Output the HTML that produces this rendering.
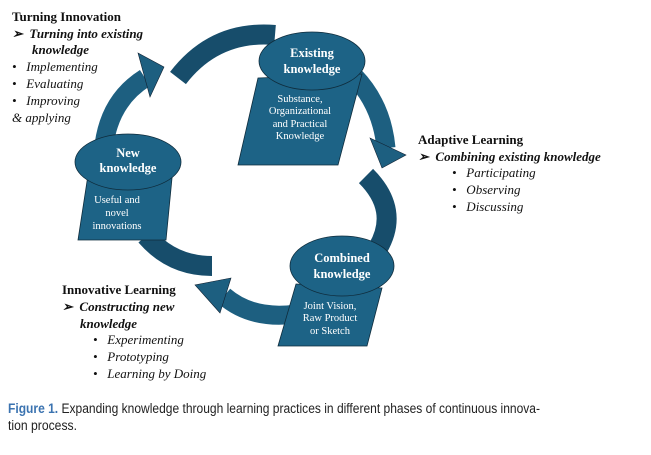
<!DOCTYPE html>
<html><head><meta charset="utf-8"><style>
html,body{margin:0;padding:0;background:#fff;}
svg{display:block;}
.s{font-family:"Liberation Serif",serif;font-size:13px;fill:#111;}
.w{font-family:"Liberation Serif",serif;fill:#fff;text-anchor:middle;}
.c{font-family:"Liberation Sans Narrow","Liberation Sans",sans-serif;font-size:13.5px;fill:#222;}
</style></head><body>
<svg width="651" height="455" viewBox="0 0 651 455">
<g fill="none" stroke-linecap="butt">
<path d="M104 145 Q110 100 145 78" stroke="#1d5f80" stroke-width="19"/>
<path d="M178 78 Q215 30 275 35" stroke="#174d6b" stroke-width="20"/>
<path d="M354 76 Q382 105 386 148" stroke="#1d5f80" stroke-width="19"/>
<path d="M366 176 Q400 210 378 248" stroke="#174d6b" stroke-width="20"/>
<path d="M296 314 Q252 320 224 296" stroke="#1d5f80" stroke-width="19"/>
<path d="M212 266 Q172 266 146 236" stroke="#174d6b" stroke-width="20"/>
</g>
<polygon points="138,53 164,67 150,97" fill="#1d5f80" stroke="#123" stroke-width="0.6"/>
<polygon points="370,138 406,155 382,168" fill="#1d5f80" stroke="#123" stroke-width="0.6"/>
<polygon points="231,278 195,285 220,313" fill="#1d5f80" stroke="#123" stroke-width="0.6"/>
<g fill="#1d6386" stroke="#0f2c3c" stroke-width="0.8">
<polygon points="258,78 362,74 338,165 238,165"/>
<ellipse cx="312" cy="61" rx="53" ry="29"/>
<polygon points="88,175 172,178 166,240 78,240"/>
<ellipse cx="128" cy="162" rx="53" ry="28"/>
<polygon points="296,284 382,288 367,346 278,346"/>
<ellipse cx="342" cy="266" rx="52" ry="30"/>
</g>
<text class="w" font-weight="bold" font-size="12.5"><tspan x="312" y="57">Existing</tspan><tspan x="312" y="73">knowledge</tspan></text>
<text class="w" font-size="10.5"><tspan x="300" y="102">Substance,</tspan><tspan x="300" y="114">Organizational</tspan><tspan x="300" y="127">and Practical</tspan><tspan x="300" y="139">Knowledge</tspan></text>
<text class="w" font-weight="bold" font-size="12.5"><tspan x="128" y="157">New</tspan><tspan x="128" y="172">knowledge</tspan></text>
<text class="w" font-size="10.5"><tspan x="117" y="203">Useful and</tspan><tspan x="117" y="216">novel</tspan><tspan x="117" y="229">innovations</tspan></text>
<text class="w" font-weight="bold" font-size="12.5"><tspan x="342" y="262">Combined</tspan><tspan x="342" y="278">knowledge</tspan></text>
<text class="w" font-size="10.5"><tspan x="330" y="309">Joint Vision,</tspan><tspan x="330" y="321">Raw Product</tspan><tspan x="330" y="334">or Sketch</tspan></text>

<text class="s" x="12" y="21" font-weight="bold">Turning Innovation</text>
<text class="s" x="12" y="38" font-weight="bold" font-style="italic">➢&#160; Turning into existing</text>
<text class="s" x="32" y="54" font-weight="bold" font-style="italic">knowledge</text>
<text class="s" x="12" y="71" font-style="italic">•&#160;&#160; Implementing</text>
<text class="s" x="12" y="88" font-style="italic">•&#160;&#160; Evaluating</text>
<text class="s" x="12" y="105" font-style="italic">•&#160;&#160; Improving</text>
<text class="s" x="12" y="122" font-style="italic">&amp; applying</text>

<text class="s" x="418" y="144" font-weight="bold">Adaptive Learning</text>
<text class="s" x="418" y="161" font-weight="bold" font-style="italic">➢&#160; Combining existing knowledge</text>
<text class="s" x="452" y="177" font-style="italic">•&#160;&#160; Participating</text>
<text class="s" x="452" y="194" font-style="italic">•&#160;&#160; Observing</text>
<text class="s" x="452" y="211" font-style="italic">•&#160;&#160; Discussing</text>

<text class="s" x="62" y="294" font-weight="bold">Innovative Learning</text>
<text class="s" x="62" y="311" font-weight="bold" font-style="italic">➢&#160; Constructing new</text>
<text class="s" x="80" y="328" font-weight="bold" font-style="italic">knowledge</text>
<text class="s" x="93" y="344" font-style="italic">•&#160;&#160; Experimenting</text>
<text class="s" x="93" y="361" font-style="italic">•&#160;&#160; Prototyping</text>
<text class="s" x="93" y="378" font-style="italic">•&#160;&#160; Learning by Doing</text>

<text class="c" x="8" y="413" textLength="532" lengthAdjust="spacingAndGlyphs"><tspan fill="#3b73b0" font-weight="bold">Figure 1.</tspan> Expanding knowledge through learning practices in different phases of continuous innova-</text>
<text class="c" x="8" y="430" textLength="69" lengthAdjust="spacingAndGlyphs">tion process.</text>
</svg>
</body></html>
